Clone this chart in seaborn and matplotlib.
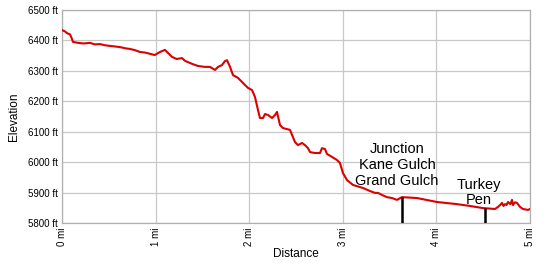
import matplotlib
matplotlib.use("Agg")
import matplotlib.pyplot as plt
import seaborn as sns
import pandas as pd

distance_mi = [0.000, 0.030, 0.053, 0.085, 0.100, 0.118, 0.171, 0.230, 0.299, 0.350,
               0.406, 0.460, 0.513, 0.570, 0.620, 0.680, 0.726, 0.780, 0.833, 0.890,
               0.940, 0.990, 1.047, 1.100, 1.132, 1.175, 1.225, 1.282, 1.314,
               1.389, 1.453, 1.528, 1.581, 1.635, 1.667, 1.709, 1.741, 1.763, 1.795,
               1.827, 1.880, 1.934, 1.987, 2.030, 2.062, 2.094, 2.115, 2.147, 2.169,
               2.201, 2.244, 2.276, 2.297, 2.329, 2.361, 2.436, 2.489, 2.521, 2.564,
               2.596, 2.628, 2.650, 2.703, 2.756, 2.778, 2.810, 2.831, 2.885, 2.938,
               2.970, 3.002, 3.045, 3.109, 3.216, 3.291, 3.344, 3.376, 3.419, 3.472,
               3.526, 3.579, 3.632, 3.793, 4.006, 4.220, 4.359, 4.498, 4.626, 4.658,
               4.680, 4.701, 4.717, 4.733, 4.749, 4.765, 4.790, 4.808, 4.818, 4.840,
               4.861, 4.893, 4.925, 4.979, 5.000]
elevation_ft = [6434, 6430, 6424, 6420, 6410, 6395, 6392, 6390, 6392, 6387,
                6388, 6384, 6382, 6380, 6378, 6374, 6372, 6368, 6362, 6360,
                6356, 6352, 6362, 6369, 6359, 6346, 6339, 6342, 6333,
                6323, 6316, 6313, 6313, 6303, 6313, 6319, 6332, 6335, 6313,
                6286, 6277, 6260, 6244, 6237, 6214, 6171, 6145, 6145, 6158,
                6155, 6145, 6155, 6165, 6122, 6112, 6106, 6066, 6056, 6063,
                6056, 6046, 6033, 6030, 6030, 6046, 6043, 6027, 6017, 6007,
                5997, 5964, 5941, 5925, 5915, 5905, 5899, 5899, 5892, 5885,
                5882, 5876, 5885, 5882, 5869, 5862, 5856, 5849, 5846, 5853,
                5859, 5866, 5856, 5862, 5859, 5869, 5862, 5876, 5859, 5868,
                5866, 5853, 5846, 5843, 5846]

marker_names = ["Junction\nKane Gulch\nGrand Gulch", "Turkey\nPen"]
marker_mi = [3.63, 4.52]
marker_ft = [5885, 5849]

x_ticks = [0, 1, 2, 3, 4, 5]
x_labels = ["0 mi", "1 mi", "2 mi", "3 mi", "4 mi", "5 mi"]
y_ticks = [5800, 5900, 6000, 6100, 6200, 6300, 6400, 6500]
y_labels = ["5800 ft", "5900 ft", "6000 ft", "6100 ft", "6200 ft", "6300 ft", "6400 ft", "6500 ft"]

sns.set_theme(style="whitegrid")
plt.rcParams["font.family"] = ["Liberation Sans", "DejaVu Sans"]

df = pd.DataFrame({"Distance": distance_mi, "Elevation": elevation_ft})

fig = plt.figure(figsize=(5.5, 2.68), dpi=100)
ax = fig.add_axes([62/550, 1 - 223/268, 468/550, 213/268])

sns.lineplot(data=df, x="Distance", y="Elevation", ax=ax, color="#dd0000",
             linewidth=1.5, zorder=3)

ax.vlines(marker_mi, 5800, marker_ft, colors="black", linewidth=1.8, zorder=4)
text_offsets = [(-0.05, 5916), (-0.07, 5851)]
for name, mx, (dx, ty) in zip(marker_names, marker_mi, text_offsets):
    ax.text(mx + dx, ty, name, ha="center", va="bottom", fontsize=10.5,
            linespacing=1.17, color="black", zorder=5)

ax.set_xlim(0, 5)
ax.set_ylim(5800, 6500)
ax.set_xticks(x_ticks)
ax.set_xticklabels(x_labels, rotation=90, fontsize=7, color="black")
ax.set_yticks(y_ticks)
ax.set_yticklabels(y_labels, fontsize=7, color="black")
ax.tick_params(axis="both", length=0, pad=3)
ax.grid(True, color="#c8c8c8", linewidth=0.9)
for s in ax.spines.values():
    s.set_color("#b0b0b0")
    s.set_linewidth(0.9)
ax.set_xlabel("Distance", fontsize=8.5, labelpad=2, color="black")
ax.set_ylabel("Elevation", fontsize=8.5, labelpad=6, color="black")

fig.savefig("out.png", dpi=100, facecolor="white")
